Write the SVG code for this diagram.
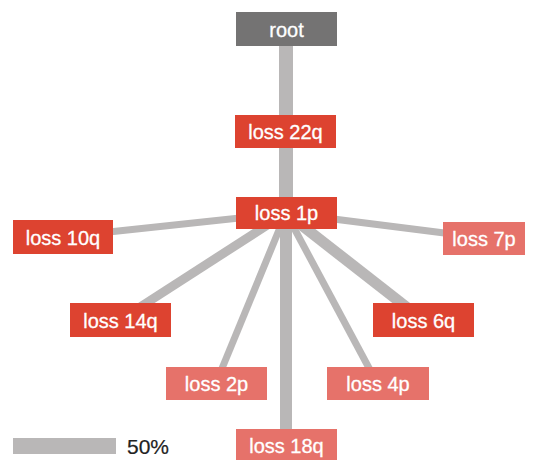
<svg xmlns="http://www.w3.org/2000/svg" width="535" height="460" viewBox="0 0 535 460">
<style>
.e{stroke:#b9b7b7;fill:none;stroke-linecap:butt}
.dark{fill:#dd4330}
.light{fill:#e6726a}
.gray{fill:#747373}
text{font-family:"Liberation Sans",Arial,sans-serif;font-size:20px;fill:#fff;stroke:#fff;stroke-width:0.3;text-anchor:middle}
.lg{fill:#222;stroke:#222;stroke-width:0.2;text-anchor:start;font-size:21px}
</style>
<rect width="535" height="460" fill="#fff"/>
<g id="connectors">
<line class="e" x1="286" y1="40" x2="286" y2="120" stroke-width="14"/>
<line class="e" x1="286" y1="140" x2="286" y2="205" stroke-width="14"/>
<line class="e" x1="286" y1="213" x2="62" y2="237" stroke-width="7"/>
<line class="e" x1="286" y1="213" x2="484" y2="238" stroke-width="7"/>
<line class="e" x1="286" y1="213" x2="120" y2="320" stroke-width="9"/>
<line class="e" x1="286" y1="213" x2="423" y2="320" stroke-width="11"/>
<line class="e" x1="286" y1="213" x2="216" y2="383" stroke-width="7"/>
<line class="e" x1="286" y1="213" x2="377" y2="383" stroke-width="7"/>
<line class="e" x1="286" y1="213" x2="286" y2="440" stroke-width="12"/>
</g>
<g id="root"><rect class="gray" x="236" y="12" width="101" height="34"/><text x="286.5" y="36.5">root</text></g>
<g id="loss22q"><rect class="dark" x="235" y="115" width="101" height="33"/><text x="285.5" y="138.5">loss 22q</text></g>
<g id="loss1p"><rect class="dark" x="236" y="197" width="101" height="32"/><text x="286.5" y="220">loss 1p</text></g>
<g id="loss10q"><rect class="dark" x="13" y="220" width="100" height="34"/><text x="63" y="244.5">loss 10q</text></g>
<g id="loss7p"><rect class="light" x="443" y="222" width="82" height="33"/><text x="484" y="245.5">loss 7p</text></g>
<g id="loss14q"><rect class="dark" x="70" y="303" width="101" height="34"/><text x="120.5" y="327.5">loss 14q</text></g>
<g id="loss6q"><rect class="dark" x="373" y="303" width="101" height="34"/><text x="423.5" y="327.5">loss 6q</text></g>
<g id="loss2p"><rect class="light" x="166" y="367" width="101" height="33"/><text x="216.5" y="390.5">loss 2p</text></g>
<g id="loss4p"><rect class="light" x="327" y="367" width="102" height="33"/><text x="378" y="390.5">loss 4p</text></g>
<g id="loss18q"><rect class="light" x="236" y="429" width="101" height="33"/><text x="286.5" y="452.5">loss 18q</text></g>
<g id="legend"><rect x="13" y="438" width="103" height="16" fill="#b9b7b7"/><text class="lg" x="127" y="453.5">50%</text></g>
</svg>
